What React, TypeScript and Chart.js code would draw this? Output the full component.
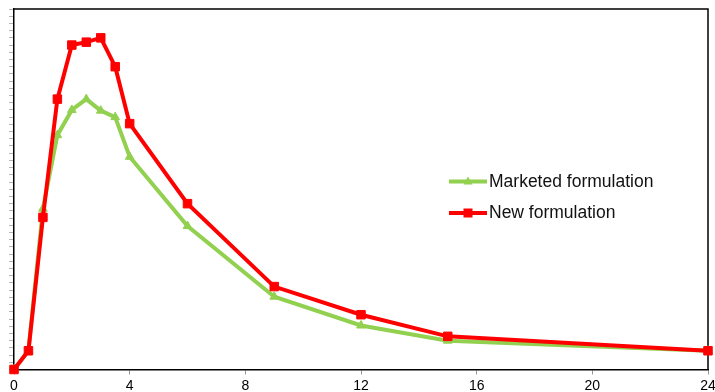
import React, { useEffect, useRef } from "react";
import { Chart, registerables } from "chart.js";

Chart.register(...registerables);

// Sampling times (h)
const times = [0, 0.5, 1, 1.5, 2, 2.5, 3, 3.5, 4, 6, 9, 12, 15, 24];
// Concentration profiles (arbitrary units)
const marketed = [0, 2.6, 22.3, 32.5, 36.0, 37.5, 35.9, 35.0, 29.5, 19.9, 10.1, 6.1, 4.0, 2.6];
const newForm = [0, 2.6, 21.1, 37.5, 45.0, 45.4, 46.0, 42.0, 34.1, 23.0, 11.5, 7.6, 4.6, 2.6];
const seriesLabels = ["Marketed formulation", "New formulation"];
const xTicks = { min: 0, max: 24, step: 4 };
const yRange = { min: 0, max: 50, step: 1 };

const GREEN = "#92D050";
const RED = "#FF0000";
const FONT = "'Liberation Sans', Arial, sans-serif";

const frame = {
  id: "frame",
  beforeDatasetsDraw(chart: any) {
    const { ctx, chartArea } = chart;
    ctx.save();
    ctx.strokeStyle = "#000";
    ctx.lineWidth = 1.5;
    ctx.beginPath();
    ctx.moveTo(chartArea.left, chartArea.top);
    ctx.lineTo(chartArea.right, chartArea.top);
    ctx.lineTo(chartArea.right, chartArea.bottom);
    ctx.stroke();
    ctx.restore();
  },
};

const lineLegend = {
  id: "lineLegend",
  afterDraw(chart: any) {
    const { ctx } = chart;
    const rows = [
      { label: seriesLabels[0], color: GREEN, shape: "triangle", y: 181.5 },
      { label: seriesLabels[1], color: RED, shape: "rect", y: 213 },
    ];
    ctx.save();
    for (const r of rows) {
      ctx.strokeStyle = r.color;
      ctx.fillStyle = r.color;
      ctx.lineWidth = 4;
      ctx.beginPath();
      ctx.moveTo(449, r.y);
      ctx.lineTo(487, r.y);
      ctx.stroke();
      ctx.beginPath();
      if (r.shape === "rect") {
        ctx.rect(468 - 4.5, r.y - 4.5, 9, 9);
      } else {
        ctx.moveTo(468, r.y - 5);
        ctx.lineTo(472.5, r.y + 3);
        ctx.lineTo(463.5, r.y + 3);
        ctx.closePath();
      }
      ctx.fill();
      ctx.fillStyle = "#111";
      ctx.font = `17.5px ${FONT}`;
      ctx.textBaseline = "middle";
      ctx.textAlign = "left";
      ctx.fillText(r.label, 489, r.y + 0.5);
    }
    ctx.restore();
  },
};

export default function App() {
  const ref = useRef<HTMLCanvasElement>(null);

  useEffect(() => {
    const chart = new Chart(ref.current as HTMLCanvasElement, {
      type: "line",
      data: {
        datasets: [
          {
            label: seriesLabels[0],
            data: times.map((t, i) => ({ x: t, y: marketed[i] })),
            borderColor: GREEN,
            backgroundColor: GREEN,
            borderWidth: 4,
            pointStyle: "triangle",
            pointRadius: 5,
            pointBorderWidth: 1,
            tension: 0,
            clip: false,
            order: 1,
          },
          {
            label: seriesLabels[1],
            data: times.map((t, i) => ({ x: t, y: newForm[i] })),
            borderColor: RED,
            backgroundColor: RED,
            borderWidth: 4,
            pointStyle: "rect",
            pointRadius: 6,
            pointBorderWidth: 1,
            tension: 0,
            clip: false,
            order: 0,
          },
        ],
      },
      options: {
        animation: false,
        responsive: false,
        layout: { padding: { top: 9, right: 5.5, left: 0, bottom: 0 } },
        plugins: { legend: { display: false }, tooltip: { enabled: false } },
        scales: {
          x: {
            type: "linear",
            min: xTicks.min,
            max: xTicks.max,
            ticks: {
              stepSize: xTicks.step,
              color: "#000",
              font: { family: FONT, size: 14 },
              padding: 3,
              maxRotation: 0,
              autoSkip: false,
            },
            grid: { drawOnChartArea: false, tickLength: 5, color: "#999" },
            border: { color: "#000", width: 1.5 },
            afterFit: (s: any) => {
              s.height = 22.5;
              s.paddingLeft = 0;
              s.paddingRight = 0;
            },
          },
          y: {
            min: yRange.min,
            max: yRange.max,
            ticks: { stepSize: yRange.step, callback: () => "", padding: 0, autoSkip: false },
            grid: { drawOnChartArea: false, tickLength: 5, color: "#b5b5b5" },
            border: { color: "#000", width: 1.5 },
            afterFit: (s: any) => {
              s.width = 14;
              s.paddingTop = 0;
              s.paddingBottom = 0;
            },
          },
        },
      },
      plugins: [frame, lineLegend],
    });
    return () => chart.destroy();
  }, []);

  return (
    <div style={{ position: "absolute", left: 0, top: 0, width: 715, height: 392, background: "#fff" }}>
      <canvas ref={ref} width={715} height={392} style={{ width: 715, height: 392, display: "block" }} />
    </div>
  );
}
